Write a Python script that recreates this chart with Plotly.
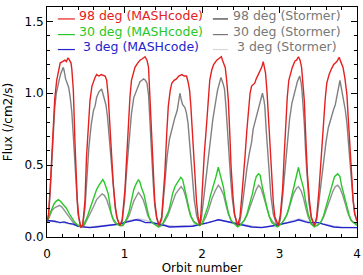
import plotly.graph_objects as go

# ---------------- data ----------------
red_x = [0.0,0.02,0.04,0.06,0.08,0.10,0.125,0.15,0.17,0.20,0.23,0.25,0.27,0.29,0.31,0.32,0.34,0.36,0.38,0.39,0.41,0.435,
         0.46,0.49,0.51,0.535,0.555,0.58,0.60,0.62,0.64,0.67,0.70,0.72,0.75,0.77,0.79,0.81,0.835,0.855,0.88,0.90,0.94,
         0.97,1.006,1.03,1.05,1.07,1.09,1.135,1.17,1.20,1.23,1.265,1.29,1.31,1.33,1.35,1.37,1.39,1.415,1.445,
         1.48,1.52,1.545,1.565,1.59,1.61,1.64,1.67,1.70,1.74,1.77,1.80,1.82,1.84,1.855,1.87,1.89,1.91,1.93,1.95,1.97,
         1.985,2.00,2.03,2.06,2.08,2.10,2.125,2.15,2.19,2.22,2.25,2.27,2.30,2.32,2.34,2.36,2.375,2.40,2.42,2.46,
         2.49,2.51,2.535,2.555,2.58,2.60,2.62,2.64,2.66,2.68,2.70,2.73,2.75,2.77,2.79,2.80,2.82,2.84,2.855,2.88,2.90,2.92,2.94,2.985,
         3.01,3.04,3.06,3.08,3.10,3.12,3.165,3.20,3.22,3.245,3.265,3.285,3.30,3.32,3.34,3.36,3.385,3.41,3.45,
         3.48,3.51,3.54,3.565,3.59,3.61,3.64,3.67,3.70,3.74,3.77,3.79,3.82,3.845,3.87,3.89,3.91,3.93,3.95,3.97,4.0]
red_y = [0.10,0.16,0.33,0.55,0.79,0.96,1.09,1.17,1.21,1.22,1.23,1.22,1.245,1.23,1.21,1.17,1.02,0.67,0.40,0.26,0.14,0.07,
         0.08,0.25,0.56,0.80,0.95,1.05,1.09,1.11,1.13,1.12,1.13,1.125,1.12,1.09,0.98,0.79,0.55,0.37,0.22,0.14,0.08,
         0.12,0.33,0.58,0.79,0.97,1.09,1.18,1.21,1.23,1.24,1.254,1.23,1.18,0.95,0.68,0.44,0.25,0.14,0.08,
         0.14,0.44,0.72,0.91,1.02,1.07,1.09,1.10,1.12,1.13,1.12,1.12,1.08,1.02,0.92,0.79,0.58,0.39,0.24,0.14,0.08,
         0.15,0.33,0.58,0.79,0.97,1.09,1.16,1.20,1.23,1.24,1.254,1.22,1.18,1.08,0.95,0.70,0.49,0.28,0.16,0.08,
         0.14,0.26,0.40,0.56,0.75,0.91,1.00,1.05,1.06,1.07,1.10,1.13,1.15,1.18,1.22,1.19,1.14,1.00,0.84,0.58,0.37,0.24,0.14,0.08,
         0.15,0.33,0.56,0.79,0.97,1.09,1.18,1.225,1.23,1.254,1.23,1.18,1.08,0.95,0.68,0.44,0.26,0.14,0.08,
         0.14,0.33,0.57,0.79,0.96,1.07,1.13,1.17,1.20,1.22,1.25,1.22,1.18,1.10,0.99,0.80,0.61,0.42,0.26,0.16,0.11]

gray98_x = [0.0,0.02,0.04,0.06,0.08,0.10,0.12,0.14,0.16,0.18,0.20,0.21,0.22,0.24,0.26,0.28,0.30,0.32,0.34,0.36,0.38,0.40,0.43,
            0.46,0.49,0.51,0.54,0.57,0.60,0.62,0.64,0.67,0.705,0.72,0.74,0.76,0.78,0.80,0.82,0.84,0.86,0.88,0.91,0.94,
            0.97,1.00,1.03,1.06,1.09,1.12,1.16,1.20,1.225,1.245,1.27,1.29,1.31,1.33,1.35,1.37,1.39,1.415,1.445,
            1.48,1.52,1.55,1.58,1.61,1.63,1.65,1.68,1.70,1.715,1.73,1.75,1.78,1.80,1.82,1.84,1.86,1.88,1.90,1.93,1.97,
            1.99,2.02,2.05,2.08,2.11,2.14,2.17,2.20,2.225,2.245,2.27,2.29,2.31,2.33,2.35,2.37,2.39,2.42,2.46,
            2.49,2.52,2.55,2.58,2.61,2.64,2.66,2.68,2.70,2.73,2.76,2.78,2.80,2.81,2.83,2.85,2.87,2.89,2.92,2.96,2.985,
            3.01,3.04,3.07,3.10,3.13,3.16,3.20,3.23,3.26,3.28,3.29,3.31,3.32,3.34,3.36,3.38,3.41,3.45,
            3.48,3.51,3.54,3.57,3.60,3.63,3.66,3.68,3.70,3.72,3.75,3.78,3.80,3.82,3.85,3.87,3.89,3.91,3.93,3.95,3.97,4.0]
gray98_y = [0.10,0.15,0.30,0.50,0.72,0.90,1.00,1.06,1.10,1.14,1.17,1.18,1.16,1.10,1.07,1.04,0.97,0.87,0.70,0.50,0.30,0.16,0.08,
            0.08,0.20,0.40,0.62,0.78,0.88,0.91,0.97,1.01,1.03,1.00,0.96,0.92,0.84,0.70,0.56,0.42,0.30,0.20,0.12,0.08,
            0.11,0.25,0.48,0.70,0.86,0.97,1.02,1.08,1.09,1.10,1.09,1.07,0.99,0.82,0.58,0.38,0.22,0.13,0.08,
            0.12,0.36,0.56,0.68,0.75,0.79,0.83,0.88,0.95,1.00,0.96,0.92,0.90,0.86,0.79,0.67,0.52,0.38,0.26,0.15,0.08,
            0.12,0.25,0.40,0.55,0.68,0.82,0.93,1.02,1.07,1.11,1.07,1.03,0.90,0.72,0.55,0.40,0.27,0.15,0.08,
            0.11,0.22,0.36,0.48,0.58,0.66,0.75,0.79,0.84,0.91,0.97,1.00,0.95,0.91,0.73,0.56,0.40,0.28,0.16,0.09,0.08,
            0.12,0.28,0.48,0.66,0.82,0.93,1.02,1.08,1.12,1.07,1.02,0.90,0.79,0.56,0.38,0.24,0.13,0.08,
            0.12,0.25,0.40,0.55,0.66,0.76,0.82,0.86,0.89,0.92,1.00,1.09,1.03,0.97,0.88,0.79,0.65,0.50,0.36,0.25,0.17,0.11]

green_x = [0.0,0.03,0.06,0.09,0.12,0.146,0.17,0.20,0.25,0.29,0.32,0.36,0.40,0.44,
           0.47,0.49,0.52,0.55,0.58,0.61,0.64,0.67,0.70,0.72,0.74,0.76,0.79,0.81,0.83,0.85,0.87,0.90,0.94,
           0.97,1.00,1.03,1.06,1.09,1.12,1.15,1.18,1.20,1.22,1.25,1.28,1.31,1.34,1.38,1.44,
           1.47,1.50,1.54,1.57,1.60,1.62,1.65,1.68,1.70,1.725,1.75,1.78,1.80,1.83,1.86,1.90,1.97,
           2.00,2.02,2.05,2.08,2.11,2.15,2.18,2.21,2.24,2.275,2.30,2.34,2.37,2.40,2.46,
           2.49,2.52,2.55,2.58,2.62,2.65,2.68,2.70,2.73,2.75,2.77,2.80,2.84,2.87,2.90,2.97,
           3.00,3.05,3.09,3.12,3.15,3.18,3.21,3.245,3.27,3.31,3.34,3.37,3.41,3.45,
           3.48,3.51,3.54,3.57,3.60,3.64,3.68,3.71,3.75,3.78,3.80,3.84,3.87,3.90,3.93,3.97,4.0]
green_y = [0.11,0.15,0.20,0.23,0.25,0.26,0.25,0.23,0.20,0.16,0.13,0.10,0.08,0.07,
           0.08,0.10,0.14,0.19,0.24,0.29,0.33,0.36,0.38,0.40,0.38,0.35,0.30,0.23,0.16,0.13,0.11,0.09,0.08,
           0.08,0.10,0.13,0.18,0.25,0.33,0.37,0.40,0.38,0.34,0.30,0.22,0.15,0.11,0.09,0.07,
           0.08,0.10,0.14,0.18,0.25,0.30,0.35,0.38,0.40,0.415,0.40,0.34,0.28,0.20,0.14,0.10,0.08,
           0.09,0.12,0.16,0.22,0.29,0.36,0.42,0.485,0.43,0.35,0.27,0.17,0.12,0.10,0.07,
           0.08,0.10,0.12,0.16,0.23,0.30,0.38,0.42,0.44,0.43,0.37,0.29,0.20,0.14,0.10,0.07,
           0.08,0.11,0.15,0.20,0.27,0.34,0.42,0.485,0.42,0.34,0.24,0.16,0.09,0.07,
           0.08,0.09,0.11,0.15,0.21,0.29,0.37,0.42,0.44,0.42,0.36,0.28,0.20,0.15,0.11,0.09,0.08]

gray30_x = [0.0,0.03,0.06,0.09,0.12,0.16,0.19,0.22,0.26,0.30,0.34,0.40,0.44,
            0.48,0.52,0.56,0.60,0.64,0.68,0.71,0.74,0.77,0.80,0.83,0.86,0.90,0.94,
            0.98,1.02,1.06,1.09,1.12,1.15,1.18,1.21,1.24,1.27,1.30,1.34,1.39,1.44,
            1.48,1.52,1.56,1.60,1.63,1.66,1.70,1.73,1.76,1.79,1.82,1.85,1.89,1.97,
            2.01,2.05,2.09,2.13,2.17,2.21,2.24,2.28,2.31,2.34,2.38,2.46,
            2.50,2.54,2.58,2.62,2.66,2.70,2.73,2.76,2.79,2.83,2.87,2.92,2.97,
            3.02,3.06,3.10,3.14,3.18,3.22,3.245,3.28,3.31,3.34,3.37,3.41,3.45,
            3.49,3.53,3.57,3.61,3.65,3.69,3.72,3.75,3.78,3.81,3.85,3.88,3.92,3.96,4.0]
gray30_y = [0.10,0.14,0.18,0.20,0.21,0.22,0.21,0.19,0.16,0.13,0.10,0.08,0.07,
            0.08,0.12,0.16,0.21,0.26,0.28,0.30,0.29,0.26,0.21,0.15,0.11,0.09,0.08,
            0.08,0.11,0.15,0.20,0.25,0.28,0.31,0.29,0.26,0.21,0.15,0.11,0.09,0.07,
            0.08,0.11,0.15,0.21,0.26,0.30,0.33,0.35,0.33,0.28,0.21,0.15,0.11,0.08,
            0.10,0.14,0.20,0.27,0.32,0.36,0.34,0.29,0.22,0.16,0.11,0.08,
            0.09,0.11,0.15,0.21,0.28,0.33,0.36,0.34,0.29,0.21,0.14,0.10,0.08,
            0.09,0.12,0.16,0.23,0.30,0.34,0.35,0.32,0.27,0.20,0.14,0.09,0.08,
            0.08,0.10,0.14,0.20,0.27,0.32,0.35,0.36,0.34,0.30,0.23,0.17,0.12,0.10,0.09]

blue_x = [0.0,0.05,0.10,0.17,0.22,0.28,0.34,0.40,0.47,0.55,0.63,0.72,0.80,0.88,0.94,1.00,1.06,1.10,1.15,1.20,1.27,1.35,
          1.40,1.45,1.52,1.58,1.62,1.70,1.80,1.88,1.96,2.02,2.08,2.15,2.21,2.26,2.34,2.40,2.47,2.55,2.64,2.77,2.85,2.94,
          3.03,3.12,3.20,3.245,3.30,3.37,3.44,3.50,3.56,3.63,3.70,3.80,3.90,4.0]
blue_y = [0.115,0.115,0.11,0.10,0.105,0.095,0.09,0.075,0.07,0.065,0.07,0.075,0.08,0.085,0.09,0.10,0.11,0.115,0.12,0.115,0.10,0.10,
          0.095,0.09,0.08,0.07,0.07,0.07,0.07,0.075,0.085,0.09,0.10,0.11,0.12,0.115,0.105,0.10,0.09,0.08,0.07,0.065,0.07,0.08,
          0.09,0.10,0.11,0.12,0.11,0.10,0.10,0.10,0.09,0.08,0.07,0.065,0.065,0.065]

lgray_x = [0.0,0.06,0.12,0.20,0.30,0.38,0.46,0.55,0.64,0.74,0.84,0.94,1.02,1.10,1.18,1.24,1.30,1.38,1.46,1.55,1.65,1.75,
           1.85,1.95,2.05,2.14,2.22,2.30,2.40,2.50,2.60,2.70,2.80,2.90,3.00,3.10,3.18,3.26,3.34,3.42,3.50,3.60,3.70,3.80,3.90,4.0]
lgray_y = [0.10,0.11,0.10,0.10,0.09,0.08,0.07,0.07,0.075,0.08,0.085,0.09,0.11,0.12,0.125,0.12,0.11,0.10,0.09,0.08,0.075,0.075,
           0.08,0.085,0.095,0.11,0.12,0.11,0.10,0.085,0.075,0.07,0.07,0.075,0.09,0.10,0.115,0.125,0.11,0.10,0.10,0.085,0.075,0.07,0.065,0.065]

legend_labels = ["98 deg (MASHcode)", "30 deg (MASHcode)", "\u00a03 deg (MASHcode)",
                 "98 deg (Stormer)", "30 deg (Stormer)", "\u00a03 deg (Stormer)"]
x_ticks = [0, 1, 2, 3, 4]
y_ticks = [0.0, 0.5, 1.0, 1.5]
y_tick_text = ["0.0", "0.5", "1.0", "1.5"]

# ---------------- styles ----------------
RED = "rgb(228,32,32)"
GREEN = "rgb(40,200,40)"
BLUE = "rgb(36,36,205)"
G98 = "rgb(128,128,128)"
G30 = "rgb(145,145,145)"
G3 = "rgb(200,200,218)"
TXTGRAY = "rgb(120,120,120)"
FONT = "DejaVu Sans"

fig = go.Figure()
series = [
    (lgray_x, lgray_y, G3),
    (gray30_x, gray30_y, G30),
    (gray98_x, gray98_y, G98),
    (blue_x, blue_y, BLUE),
    (green_x, green_y, GREEN),
    (red_x, red_y, RED),
]
for xs, ys, c in series:
    fig.add_trace(go.Scatter(x=xs, y=ys, mode="lines",
                             line=dict(color=c, width=1.4), showlegend=False,
                             hoverinfo="skip"))

# legend (two columns, drawn as annotations + line samples)
rows_y = [0.961, 0.893, 0.828]
col1 = [RED, GREEN, BLUE]
col2_line = ["rgb(60,60,60)", "rgb(120,120,120)", "rgb(215,215,215)"]
LEGSIZE = 12.5
for i in range(3):
    y = rows_y[i]
    fig.add_shape(type="line", xref="paper", yref="paper",
                  x0=0.035, x1=0.090, y0=y - 0.013, y1=y - 0.013,
                  line=dict(color=col1[i], width=1.2))
    fig.add_annotation(xref="paper", yref="paper", x=0.098, y=y,
                       xanchor="left", yanchor="middle", showarrow=False,
                       text=legend_labels[i], font=dict(color=col1[i], size=LEGSIZE, family=FONT))
    fig.add_shape(type="line", xref="paper", yref="paper",
                  x0=0.535, x1=0.584, y0=y - 0.013, y1=y - 0.013,
                  line=dict(color=col2_line[i], width=1.2))
    fig.add_annotation(xref="paper", yref="paper", x=0.592, y=y,
                       xanchor="left", yanchor="middle", showarrow=False,
                       text=legend_labels[3 + i], font=dict(color=TXTGRAY, size=LEGSIZE, family=FONT))

axis_common = dict(showgrid=False, zeroline=False, showline=True, linecolor="black",
                   linewidth=1, mirror="ticks", ticks="inside", ticklen=6,
                   tickcolor="black", tickwidth=1, automargin=False,
                   tickfont=dict(family=FONT, size=12, color="black"))

fig.update_xaxes(range=[0, 4], tickvals=x_ticks, ticktext=[str(v) for v in x_ticks],
                 ticklabelstandoff=6,
                 minor=dict(dtick=0.2, ticks="inside", ticklen=3, tickcolor="black"),
                 title=dict(text="Orbit number", font=dict(family=FONT, size=12, color="black"), standoff=5),
                 **axis_common)
fig.update_yaxes(range=[0, 1.6], tickvals=y_ticks, ticktext=y_tick_text,
                 minor=dict(dtick=0.1, ticks="inside", ticklen=3, tickcolor="black"),
                 title=dict(text="Flux (/cm2/s)", font=dict(family=FONT, size=12, color="black"), standoff=9),
                 **axis_common)

fig.update_layout(width=363, height=275, margin=dict(l=47, r=6, t=7, b=38),
                  paper_bgcolor="white", plot_bgcolor="white",
                  font=dict(family=FONT, size=12))

fig.write_html("out.html")
